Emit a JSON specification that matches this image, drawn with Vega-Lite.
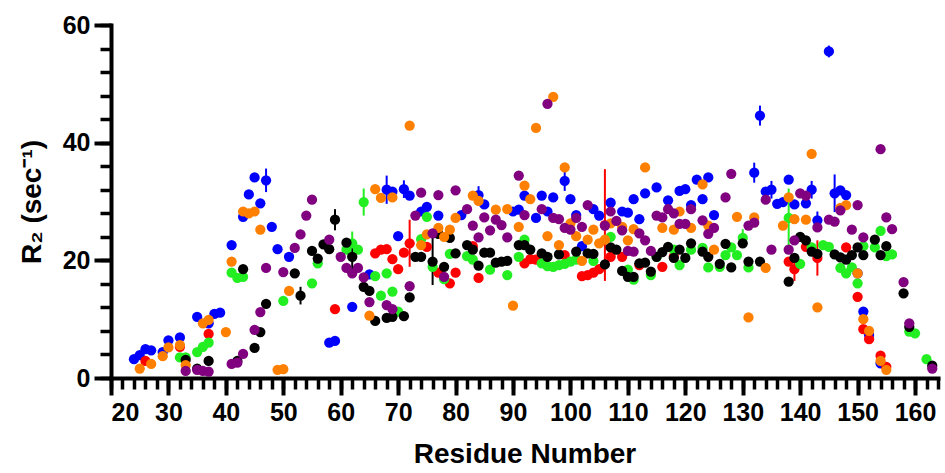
{
  "$schema": "https://vega.github.io/schema/vega-lite/v6.json",
  "width": 827,
  "height": 353,
  "autosize": {"type": "none"},
  "padding": {"left": 111, "top": 25, "right": 7, "bottom": 95},
  "background": "white",
  "config": {
    "view": {"stroke": null},
    "axis": {"domainColor": "black", "tickColor": "black", "labelColor": "black", "titleColor": "black", "labelFont": "Liberation Sans", "titleFont": "Liberation Sans", "labelFontWeight": "bold", "titleFontWeight": "bold", "grid": false}
  },
  "datasets": {
    "err": [
      {"r": 47, "s": "b", "lo": 31.6, "hi": 35.6},
      {"r": 68, "s": "b", "lo": 29.6, "hi": 34.4},
      {"r": 71, "s": "b", "lo": 30.6, "hi": 33.6},
      {"r": 84, "s": "b", "lo": 29.6, "hi": 32.6},
      {"r": 99, "s": "b", "lo": 31.8, "hi": 35.2},
      {"r": 132, "s": "b", "lo": 33.2, "hi": 36.6},
      {"r": 133, "s": "b", "lo": 42.9, "hi": 46.3},
      {"r": 135, "s": "b", "lo": 30.5, "hi": 33.5},
      {"r": 142, "s": "b", "lo": 30.5, "hi": 33.5},
      {"r": 143, "s": "b", "lo": 25.3, "hi": 28.3},
      {"r": 145, "s": "b", "lo": 54.5, "hi": 56.5},
      {"r": 146, "s": "b", "lo": 28.2, "hi": 34.6},
      {"r": 72, "s": "r", "lo": 18.9, "hi": 26.9},
      {"r": 106, "s": "r", "lo": 16.5, "hi": 35.5},
      {"r": 139, "s": "r", "lo": 16.5, "hi": 20.5},
      {"r": 143, "s": "r", "lo": 17.4, "hi": 23.4},
      {"r": 62, "s": "g", "lo": 20.9, "hi": 24.9},
      {"r": 64, "s": "g", "lo": 27.6, "hi": 32.2},
      {"r": 130, "s": "g", "lo": 22.3, "hi": 25.3},
      {"r": 138, "s": "g", "lo": 22.2, "hi": 32.2},
      {"r": 53, "s": "k", "lo": 12.5, "hi": 15.5},
      {"r": 59, "s": "k", "lo": 25.1, "hi": 28.7},
      {"r": 62, "s": "k", "lo": 17.6, "hi": 23.6},
      {"r": 76, "s": "k", "lo": 15.8, "hi": 23.8}
    ],
    "pts": [
      {"r": 24, "v": 3.2, "s": "b"}, {"r": 25, "v": 3.9, "s": "b"}, {"r": 26, "v": 4.9, "s": "b"}, {"r": 27, "v": 4.7, "s": "b"}, {"r": 29, "v": 4.4, "s": "b"}, {"r": 30, "v": 6.4, "s": "b"}, {"r": 32, "v": 6.9, "s": "b"}, {"r": 35, "v": 10.4, "s": "b"}, {"r": 37, "v": 9.3, "s": "b"}, {"r": 38, "v": 10.9, "s": "b"}, {"r": 39, "v": 11.1, "s": "b"}, {"r": 41, "v": 22.6, "s": "b"}, {"r": 43, "v": 27.4, "s": "b"}, {"r": 44, "v": 31.2, "s": "b"}, {"r": 45, "v": 34.1, "s": "b"}, {"r": 46, "v": 29.7, "s": "b"}, {"r": 47, "v": 33.6, "s": "b"}, {"r": 48, "v": 25.7, "s": "b"}, {"r": 49, "v": 21.9, "s": "b"}, {"r": 51, "v": 20.6, "s": "b"}, {"r": 58, "v": 6.0, "s": "b"}, {"r": 59, "v": 6.3, "s": "b"}, {"r": 62, "v": 12.1, "s": "b"}, {"r": 65, "v": 17.6, "s": "b"}, {"r": 68, "v": 32.0, "s": "b"}, {"r": 69, "v": 31.7, "s": "b"}, {"r": 70, "v": 24.1, "s": "b"}, {"r": 71, "v": 32.1, "s": "b"}, {"r": 72, "v": 31.0, "s": "b"}, {"r": 74, "v": 28.3, "s": "b"}, {"r": 75, "v": 29.1, "s": "b"}, {"r": 77, "v": 27.6, "s": "b"}, {"r": 81, "v": 27.7, "s": "b"}, {"r": 84, "v": 31.1, "s": "b"}, {"r": 85, "v": 29.5, "s": "b"}, {"r": 90, "v": 28.3, "s": "b"}, {"r": 91, "v": 28.6, "s": "b"}, {"r": 92, "v": 31.0, "s": "b"}, {"r": 94, "v": 27.2, "s": "b"}, {"r": 95, "v": 31.0, "s": "b"}, {"r": 96, "v": 28.3, "s": "b"}, {"r": 97, "v": 30.7, "s": "b"}, {"r": 99, "v": 33.5, "s": "b"}, {"r": 100, "v": 30.4, "s": "b"}, {"r": 101, "v": 27.7, "s": "b"}, {"r": 102, "v": 22.4, "s": "b"}, {"r": 104, "v": 28.7, "s": "b"}, {"r": 105, "v": 27.6, "s": "b"}, {"r": 107, "v": 29.8, "s": "b"}, {"r": 109, "v": 28.3, "s": "b"}, {"r": 110, "v": 28.1, "s": "b"}, {"r": 111, "v": 30.4, "s": "b"}, {"r": 112, "v": 27.0, "s": "b"}, {"r": 113, "v": 31.4, "s": "b"}, {"r": 115, "v": 32.4, "s": "b"}, {"r": 117, "v": 30.2, "s": "b"}, {"r": 119, "v": 31.8, "s": "b"}, {"r": 120, "v": 32.1, "s": "b"}, {"r": 121, "v": 29.4, "s": "b"}, {"r": 122, "v": 33.7, "s": "b"}, {"r": 123, "v": 30.4, "s": "b"}, {"r": 124, "v": 34.1, "s": "b"}, {"r": 125, "v": 27.7, "s": "b"}, {"r": 132, "v": 34.9, "s": "b"}, {"r": 133, "v": 44.6, "s": "b"}, {"r": 134, "v": 31.7, "s": "b"}, {"r": 135, "v": 32.0, "s": "b"}, {"r": 136, "v": 29.6, "s": "b"}, {"r": 137, "v": 29.9, "s": "b"}, {"r": 138, "v": 33.7, "s": "b"}, {"r": 139, "v": 29.5, "s": "b"}, {"r": 141, "v": 29.7, "s": "b"}, {"r": 142, "v": 32.0, "s": "b"}, {"r": 143, "v": 26.8, "s": "b"}, {"r": 145, "v": 55.5, "s": "b"}, {"r": 146, "v": 31.4, "s": "b"}, {"r": 147, "v": 31.9, "s": "b"}, {"r": 148, "v": 31.1, "s": "b"}, {"r": 150, "v": 17.8, "s": "b"}, {"r": 151, "v": 11.3, "s": "b"}, {"r": 152, "v": 7.3, "s": "b"}, {"r": 154, "v": 2.5, "s": "b"},

      {"r": 26, "v": 2.9, "s": "r"}, {"r": 32, "v": 5.3, "s": "r"}, {"r": 37, "v": 7.5, "s": "r"}, {"r": 59, "v": 11.7, "s": "r"}, {"r": 66, "v": 21.2, "s": "r"}, {"r": 67, "v": 21.8, "s": "r"}, {"r": 68, "v": 21.9, "s": "r"}, {"r": 69, "v": 20.2, "s": "r"}, {"r": 70, "v": 18.5, "s": "r"}, {"r": 71, "v": 21.3, "s": "r"}, {"r": 72, "v": 22.9, "s": "r"}, {"r": 75, "v": 22.3, "s": "r"}, {"r": 77, "v": 17.9, "s": "r"}, {"r": 79, "v": 16.1, "s": "r"}, {"r": 80, "v": 17.9, "s": "r"}, {"r": 83, "v": 22.4, "s": "r"}, {"r": 84, "v": 17.0, "s": "r"}, {"r": 92, "v": 19.5, "s": "r"}, {"r": 93, "v": 20.2, "s": "r"}, {"r": 94, "v": 20.1, "s": "r"}, {"r": 99, "v": 20.9, "s": "r"}, {"r": 102, "v": 17.3, "s": "r"}, {"r": 103, "v": 17.5, "s": "r"}, {"r": 104, "v": 17.9, "s": "r"}, {"r": 105, "v": 18.5, "s": "r"}, {"r": 106, "v": 26.0, "s": "r"}, {"r": 107, "v": 20.6, "s": "r"}, {"r": 109, "v": 20.6, "s": "r"}, {"r": 112, "v": 19.2, "s": "r"}, {"r": 116, "v": 18.9, "s": "r"}, {"r": 118, "v": 20.6, "s": "r"}, {"r": 138, "v": 19.8, "s": "r"}, {"r": 139, "v": 18.5, "s": "r"}, {"r": 141, "v": 22.3, "s": "r"}, {"r": 143, "v": 20.4, "s": "r"}, {"r": 148, "v": 22.2, "s": "r"}, {"r": 150, "v": 13.8, "s": "r"}, {"r": 151, "v": 8.3, "s": "r"}, {"r": 152, "v": 6.6, "s": "r"}, {"r": 154, "v": 3.8, "s": "r"}, {"r": 155, "v": 1.9, "s": "r"},

      {"r": 32, "v": 3.5, "s": "g"}, {"r": 33, "v": 3.5, "s": "g"}, {"r": 35, "v": 4.4, "s": "g"}, {"r": 36, "v": 5.3, "s": "g"}, {"r": 37, "v": 6.0, "s": "g"}, {"r": 41, "v": 17.9, "s": "g"}, {"r": 42, "v": 17.0, "s": "g"}, {"r": 43, "v": 17.2, "s": "g"}, {"r": 50, "v": 13.1, "s": "g"}, {"r": 55, "v": 16.1, "s": "g"}, {"r": 56, "v": 19.5, "s": "g"}, {"r": 61, "v": 21.8, "s": "g"}, {"r": 62, "v": 22.9, "s": "g"}, {"r": 63, "v": 21.8, "s": "g"}, {"r": 64, "v": 29.9, "s": "g"}, {"r": 66, "v": 17.3, "s": "g"}, {"r": 67, "v": 14.0, "s": "g"}, {"r": 68, "v": 17.8, "s": "g"}, {"r": 69, "v": 14.7, "s": "g"}, {"r": 70, "v": 11.3, "s": "g"}, {"r": 74, "v": 23.6, "s": "g"}, {"r": 75, "v": 27.4, "s": "g"}, {"r": 76, "v": 18.9, "s": "g"}, {"r": 78, "v": 16.8, "s": "g"}, {"r": 79, "v": 21.1, "s": "g"}, {"r": 82, "v": 20.7, "s": "g"}, {"r": 83, "v": 20.1, "s": "g"}, {"r": 86, "v": 18.4, "s": "g"}, {"r": 89, "v": 17.5, "s": "g"}, {"r": 91, "v": 20.6, "s": "g"}, {"r": 92, "v": 23.5, "s": "g"}, {"r": 95, "v": 19.5, "s": "g"}, {"r": 96, "v": 19.0, "s": "g"}, {"r": 97, "v": 18.9, "s": "g"}, {"r": 98, "v": 19.2, "s": "g"}, {"r": 99, "v": 19.4, "s": "g"}, {"r": 100, "v": 19.8, "s": "g"}, {"r": 101, "v": 20.1, "s": "g"}, {"r": 104, "v": 19.9, "s": "g"}, {"r": 107, "v": 24.0, "s": "g"}, {"r": 110, "v": 18.4, "s": "g"}, {"r": 111, "v": 16.7, "s": "g"}, {"r": 114, "v": 17.5, "s": "g"}, {"r": 115, "v": 20.6, "s": "g"}, {"r": 118, "v": 21.8, "s": "g"}, {"r": 119, "v": 19.2, "s": "g"}, {"r": 121, "v": 21.8, "s": "g"}, {"r": 123, "v": 22.1, "s": "g"}, {"r": 124, "v": 18.8, "s": "g"}, {"r": 126, "v": 18.9, "s": "g"}, {"r": 127, "v": 20.9, "s": "g"}, {"r": 128, "v": 22.2, "s": "g"}, {"r": 129, "v": 20.9, "s": "g"}, {"r": 130, "v": 23.8, "s": "g"}, {"r": 131, "v": 18.8, "s": "g"}, {"r": 138, "v": 27.2, "s": "g"}, {"r": 140, "v": 19.4, "s": "g"}, {"r": 142, "v": 22.2, "s": "g"}, {"r": 144, "v": 22.6, "s": "g"}, {"r": 145, "v": 22.3, "s": "g"}, {"r": 147, "v": 18.7, "s": "g"}, {"r": 148, "v": 17.8, "s": "g"}, {"r": 149, "v": 18.8, "s": "g"}, {"r": 150, "v": 16.1, "s": "g"}, {"r": 151, "v": 22.4, "s": "g"}, {"r": 153, "v": 22.2, "s": "g"}, {"r": 154, "v": 25.0, "s": "g"}, {"r": 155, "v": 20.7, "s": "g"}, {"r": 156, "v": 21.0, "s": "g"}, {"r": 159, "v": 7.9, "s": "g"}, {"r": 160, "v": 7.6, "s": "g"}, {"r": 162, "v": 3.2, "s": "g"},

      {"r": 33, "v": 3.1, "s": "k"}, {"r": 35, "v": 1.6, "s": "k"}, {"r": 37, "v": 2.9, "s": "k"}, {"r": 42, "v": 2.9, "s": "k"}, {"r": 43, "v": 18.5, "s": "k"}, {"r": 45, "v": 5.1, "s": "k"}, {"r": 46, "v": 7.8, "s": "k"}, {"r": 47, "v": 12.6, "s": "k"}, {"r": 52, "v": 17.8, "s": "k"}, {"r": 53, "v": 14.0, "s": "k"}, {"r": 55, "v": 21.6, "s": "k"}, {"r": 56, "v": 20.3, "s": "k"}, {"r": 57, "v": 22.7, "s": "k"}, {"r": 58, "v": 21.9, "s": "k"}, {"r": 59, "v": 26.9, "s": "k"}, {"r": 61, "v": 23.0, "s": "k"}, {"r": 62, "v": 20.6, "s": "k"}, {"r": 64, "v": 15.5, "s": "k"}, {"r": 65, "v": 14.8, "s": "k"}, {"r": 66, "v": 9.7, "s": "k"}, {"r": 68, "v": 10.2, "s": "k"}, {"r": 69, "v": 10.4, "s": "k"}, {"r": 71, "v": 10.5, "s": "k"}, {"r": 72, "v": 13.7, "s": "k"}, {"r": 73, "v": 20.6, "s": "k"}, {"r": 74, "v": 20.6, "s": "k"}, {"r": 76, "v": 19.8, "s": "k"}, {"r": 77, "v": 24.5, "s": "k"}, {"r": 78, "v": 18.9, "s": "k"}, {"r": 79, "v": 23.8, "s": "k"}, {"r": 80, "v": 21.2, "s": "k"}, {"r": 82, "v": 22.6, "s": "k"}, {"r": 83, "v": 21.8, "s": "k"}, {"r": 84, "v": 19.1, "s": "k"}, {"r": 85, "v": 21.3, "s": "k"}, {"r": 86, "v": 21.3, "s": "k"}, {"r": 87, "v": 19.6, "s": "k"}, {"r": 88, "v": 19.8, "s": "k"}, {"r": 89, "v": 19.9, "s": "k"}, {"r": 91, "v": 22.6, "s": "k"}, {"r": 92, "v": 22.6, "s": "k"}, {"r": 93, "v": 21.8, "s": "k"}, {"r": 95, "v": 21.2, "s": "k"}, {"r": 96, "v": 20.6, "s": "k"}, {"r": 98, "v": 21.0, "s": "k"}, {"r": 101, "v": 21.5, "s": "k"}, {"r": 103, "v": 21.2, "s": "k"}, {"r": 104, "v": 21.1, "s": "k"}, {"r": 106, "v": 19.3, "s": "k"}, {"r": 107, "v": 22.2, "s": "k"}, {"r": 108, "v": 21.8, "s": "k"}, {"r": 109, "v": 18.2, "s": "k"}, {"r": 110, "v": 17.2, "s": "k"}, {"r": 111, "v": 17.2, "s": "k"}, {"r": 112, "v": 19.5, "s": "k"}, {"r": 113, "v": 19.6, "s": "k"}, {"r": 114, "v": 18.1, "s": "k"}, {"r": 115, "v": 20.6, "s": "k"}, {"r": 116, "v": 21.4, "s": "k"}, {"r": 117, "v": 22.3, "s": "k"}, {"r": 118, "v": 20.4, "s": "k"}, {"r": 119, "v": 21.8, "s": "k"}, {"r": 120, "v": 20.4, "s": "k"}, {"r": 121, "v": 22.9, "s": "k"}, {"r": 123, "v": 21.5, "s": "k"}, {"r": 124, "v": 20.6, "s": "k"}, {"r": 126, "v": 19.4, "s": "k"}, {"r": 127, "v": 22.8, "s": "k"}, {"r": 128, "v": 18.8, "s": "k"}, {"r": 130, "v": 22.9, "s": "k"}, {"r": 131, "v": 19.8, "s": "k"}, {"r": 133, "v": 19.8, "s": "k"}, {"r": 138, "v": 16.4, "s": "k"}, {"r": 139, "v": 20.4, "s": "k"}, {"r": 140, "v": 24.0, "s": "k"}, {"r": 141, "v": 23.4, "s": "k"}, {"r": 142, "v": 21.5, "s": "k"}, {"r": 143, "v": 21.1, "s": "k"}, {"r": 146, "v": 21.0, "s": "k"}, {"r": 147, "v": 20.5, "s": "k"}, {"r": 148, "v": 20.1, "s": "k"}, {"r": 149, "v": 20.9, "s": "k"}, {"r": 150, "v": 22.2, "s": "k"}, {"r": 151, "v": 20.9, "s": "k"}, {"r": 153, "v": 23.5, "s": "k"}, {"r": 154, "v": 20.9, "s": "k"}, {"r": 155, "v": 22.4, "s": "k"}, {"r": 158, "v": 14.4, "s": "k"}, {"r": 159, "v": 8.7, "s": "k"}, {"r": 163, "v": 2.1, "s": "k"},

      {"r": 25, "v": 1.6, "s": "o"}, {"r": 27, "v": 2.4, "s": "o"}, {"r": 29, "v": 3.7, "s": "o"}, {"r": 30, "v": 5.2, "s": "o"}, {"r": 32, "v": 5.6, "s": "o"}, {"r": 33, "v": 2.2, "s": "o"}, {"r": 36, "v": 9.3, "s": "o"}, {"r": 37, "v": 9.9, "s": "o"}, {"r": 40, "v": 7.8, "s": "o"}, {"r": 41, "v": 19.8, "s": "o"}, {"r": 43, "v": 28.3, "s": "o"}, {"r": 44, "v": 28.0, "s": "o"}, {"r": 45, "v": 28.3, "s": "o"}, {"r": 46, "v": 25.2, "s": "o"}, {"r": 49, "v": 1.4, "s": "o"}, {"r": 50, "v": 1.5, "s": "o"}, {"r": 51, "v": 14.8, "s": "o"}, {"r": 65, "v": 10.6, "s": "o"}, {"r": 66, "v": 32.1, "s": "o"}, {"r": 67, "v": 30.6, "s": "o"}, {"r": 69, "v": 30.7, "s": "o"}, {"r": 72, "v": 42.9, "s": "o"}, {"r": 74, "v": 22.6, "s": "o"}, {"r": 75, "v": 24.4, "s": "o"}, {"r": 77, "v": 25.5, "s": "o"}, {"r": 78, "v": 24.0, "s": "o"}, {"r": 79, "v": 25.2, "s": "o"}, {"r": 80, "v": 27.2, "s": "o"}, {"r": 83, "v": 31.0, "s": "o"}, {"r": 84, "v": 30.1, "s": "o"}, {"r": 87, "v": 28.6, "s": "o"}, {"r": 89, "v": 28.7, "s": "o"}, {"r": 90, "v": 12.3, "s": "o"}, {"r": 91, "v": 25.7, "s": "o"}, {"r": 92, "v": 32.7, "s": "o"}, {"r": 93, "v": 30.4, "s": "o"}, {"r": 94, "v": 42.5, "s": "o"}, {"r": 96, "v": 24.1, "s": "o"}, {"r": 97, "v": 47.8, "s": "o"}, {"r": 98, "v": 22.6, "s": "o"}, {"r": 99, "v": 35.8, "s": "o"}, {"r": 100, "v": 26.3, "s": "o"}, {"r": 101, "v": 24.1, "s": "o"}, {"r": 102, "v": 19.9, "s": "o"}, {"r": 103, "v": 23.5, "s": "o"}, {"r": 104, "v": 25.2, "s": "o"}, {"r": 105, "v": 22.9, "s": "o"}, {"r": 106, "v": 23.5, "s": "o"}, {"r": 107, "v": 26.3, "s": "o"}, {"r": 109, "v": 25.7, "s": "o"}, {"r": 110, "v": 23.4, "s": "o"}, {"r": 111, "v": 25.3, "s": "o"}, {"r": 113, "v": 35.8, "s": "o"}, {"r": 116, "v": 25.5, "s": "o"}, {"r": 118, "v": 25.2, "s": "o"}, {"r": 119, "v": 28.3, "s": "o"}, {"r": 121, "v": 25.5, "s": "o"}, {"r": 123, "v": 32.9, "s": "o"}, {"r": 124, "v": 25.9, "s": "o"}, {"r": 125, "v": 21.8, "s": "o"}, {"r": 129, "v": 27.4, "s": "o"}, {"r": 131, "v": 10.3, "s": "o"}, {"r": 132, "v": 27.3, "s": "o"}, {"r": 134, "v": 18.7, "s": "o"}, {"r": 137, "v": 25.9, "s": "o"}, {"r": 138, "v": 30.7, "s": "o"}, {"r": 139, "v": 27.0, "s": "o"}, {"r": 141, "v": 26.9, "s": "o"}, {"r": 142, "v": 38.1, "s": "o"}, {"r": 143, "v": 12.0, "s": "o"}, {"r": 147, "v": 28.9, "s": "o"}, {"r": 148, "v": 29.4, "s": "o"}, {"r": 150, "v": 17.8, "s": "o"}, {"r": 151, "v": 10.0, "s": "o"}, {"r": 152, "v": 8.0, "s": "o"}, {"r": 154, "v": 2.9, "s": "o"}, {"r": 155, "v": 1.4, "s": "o"},

      {"r": 33, "v": 1.2, "s": "p"}, {"r": 35, "v": 1.4, "s": "p"}, {"r": 36, "v": 1.2, "s": "p"}, {"r": 37, "v": 1.1, "s": "p"}, {"r": 41, "v": 2.4, "s": "p"}, {"r": 42, "v": 2.6, "s": "p"}, {"r": 43, "v": 4.1, "s": "p"}, {"r": 45, "v": 8.2, "s": "p"}, {"r": 46, "v": 11.2, "s": "p"}, {"r": 47, "v": 18.7, "s": "p"}, {"r": 50, "v": 18.0, "s": "p"}, {"r": 52, "v": 22.1, "s": "p"}, {"r": 53, "v": 24.4, "s": "p"}, {"r": 54, "v": 27.6, "s": "p"}, {"r": 55, "v": 30.3, "s": "p"}, {"r": 58, "v": 23.5, "s": "p"}, {"r": 60, "v": 20.6, "s": "p"}, {"r": 61, "v": 18.7, "s": "p"}, {"r": 62, "v": 17.8, "s": "p"}, {"r": 63, "v": 18.7, "s": "p"}, {"r": 64, "v": 17.1, "s": "p"}, {"r": 65, "v": 12.9, "s": "p"}, {"r": 68, "v": 12.4, "s": "p"}, {"r": 69, "v": 11.7, "s": "p"}, {"r": 72, "v": 15.6, "s": "p"}, {"r": 73, "v": 27.6, "s": "p"}, {"r": 74, "v": 31.5, "s": "p"}, {"r": 76, "v": 24.6, "s": "p"}, {"r": 77, "v": 31.1, "s": "p"}, {"r": 78, "v": 17.2, "s": "p"}, {"r": 80, "v": 31.9, "s": "p"}, {"r": 82, "v": 28.7, "s": "p"}, {"r": 83, "v": 25.9, "s": "p"}, {"r": 84, "v": 23.9, "s": "p"}, {"r": 85, "v": 27.3, "s": "p"}, {"r": 86, "v": 25.1, "s": "p"}, {"r": 87, "v": 26.9, "s": "p"}, {"r": 88, "v": 26.0, "s": "p"}, {"r": 89, "v": 23.9, "s": "p"}, {"r": 91, "v": 34.4, "s": "p"}, {"r": 92, "v": 27.7, "s": "p"}, {"r": 95, "v": 28.7, "s": "p"}, {"r": 96, "v": 46.6, "s": "p"}, {"r": 97, "v": 27.2, "s": "p"}, {"r": 98, "v": 27.0, "s": "p"}, {"r": 99, "v": 25.5, "s": "p"}, {"r": 100, "v": 25.2, "s": "p"}, {"r": 101, "v": 27.2, "s": "p"}, {"r": 102, "v": 25.7, "s": "p"}, {"r": 103, "v": 29.4, "s": "p"}, {"r": 106, "v": 25.9, "s": "p"}, {"r": 107, "v": 28.3, "s": "p"}, {"r": 108, "v": 26.7, "s": "p"}, {"r": 109, "v": 25.1, "s": "p"}, {"r": 110, "v": 21.6, "s": "p"}, {"r": 111, "v": 21.5, "s": "p"}, {"r": 112, "v": 24.6, "s": "p"}, {"r": 113, "v": 23.4, "s": "p"}, {"r": 114, "v": 21.6, "s": "p"}, {"r": 115, "v": 27.6, "s": "p"}, {"r": 116, "v": 27.3, "s": "p"}, {"r": 117, "v": 28.7, "s": "p"}, {"r": 118, "v": 28.0, "s": "p"}, {"r": 119, "v": 26.2, "s": "p"}, {"r": 120, "v": 26.2, "s": "p"}, {"r": 121, "v": 28.7, "s": "p"}, {"r": 123, "v": 26.8, "s": "p"}, {"r": 124, "v": 24.5, "s": "p"}, {"r": 125, "v": 25.5, "s": "p"}, {"r": 127, "v": 30.7, "s": "p"}, {"r": 128, "v": 34.7, "s": "p"}, {"r": 131, "v": 25.9, "s": "p"}, {"r": 132, "v": 26.4, "s": "p"}, {"r": 134, "v": 30.3, "s": "p"}, {"r": 135, "v": 21.8, "s": "p"}, {"r": 138, "v": 21.8, "s": "p"}, {"r": 139, "v": 23.4, "s": "p"}, {"r": 140, "v": 31.4, "s": "p"}, {"r": 141, "v": 31.0, "s": "p"}, {"r": 143, "v": 25.6, "s": "p"}, {"r": 145, "v": 26.9, "s": "p"}, {"r": 146, "v": 26.6, "s": "p"}, {"r": 147, "v": 28.5, "s": "p"}, {"r": 149, "v": 25.2, "s": "p"}, {"r": 150, "v": 29.4, "s": "p"}, {"r": 151, "v": 23.9, "s": "p"}, {"r": 154, "v": 38.9, "s": "p"}, {"r": 155, "v": 27.3, "s": "p"}, {"r": 156, "v": 25.3, "s": "p"}, {"r": 158, "v": 16.3, "s": "p"}, {"r": 159, "v": 9.3, "s": "p"}, {"r": 163, "v": 1.6, "s": "p"}
    ]
  },
  "layer": [
    {
      "data": {"name": "err"},
      "mark": {"type": "rule", "strokeWidth": 2},
      "encoding": {
        "x": {"field": "r", "type": "quantitative", "scale": {"domain": [20, 164], "nice": false, "zero": false},
          "axis": {"orient": "bottom", "values": [20,22,24,26,28,30,32,34,36,38,40,42,44,46,48,50,52,54,56,58,60,62,64,66,68,70,72,74,76,78,80,82,84,86,88,90,92,94,96,98,100,102,104,106,108,110,112,114,116,118,120,122,124,126,128,130,132,134,136,138,140,142,144,146,148,150,152,154,156,158,160,162,164], "labels": false, "domain": false, "tickSize": 11, "tickWidth": 3.5, "title": null}},
        "y": {"field": "lo", "type": "quantitative", "scale": {"domain": [0, 60], "nice": false},
          "axis": {"orient": "left", "values": [0,4,8,12,16,20,24,28,32,36,40,44,48,52,56,60], "labels": false, "domain": false, "tickSize": 11, "tickWidth": 3.5, "title": null}},
        "y2": {"field": "hi"},
        "color": {"field": "s", "type": "nominal", "scale": {"domain": ["b", "r", "g", "k", "o", "p"], "range": ["#0000FF", "#FF0000", "#22EE22", "#000000", "#FF8000", "#800080"]}, "legend": null}
      }
    },
    {
      "data": {"name": "pts"},
      "mark": {"type": "circle", "size": 105, "opacity": 1},
      "encoding": {
        "x": {"field": "r", "type": "quantitative",
          "axis": {"orient": "bottom", "values": [20,30,40,50,60,70,80,90,100,110,120,130,140,150,160], "format": "d", "domainWidth": 4, "domainCap": "square", "tickSize": 17, "tickWidth": 4, "labelFontSize": 25, "labelPadding": 5, "title": "Residue Number", "titleFontSize": 28, "titlePadding": 15}},
        "y": {"field": "v", "type": "quantitative",
          "axis": {"orient": "left", "values": [0, 20, 40, 60], "format": "d", "domainWidth": 4, "domainCap": "square", "tickSize": 17, "tickWidth": 4, "labelFontSize": 25, "labelPadding": 4, "title": "R₂ (sec⁻¹)", "titleFontSize": 28, "titlePadding": 16}},
        "color": {"field": "s", "type": "nominal", "legend": null}
      }
    }
  ],
  "resolve": {"axis": {"x": "independent", "y": "independent"}}
}
